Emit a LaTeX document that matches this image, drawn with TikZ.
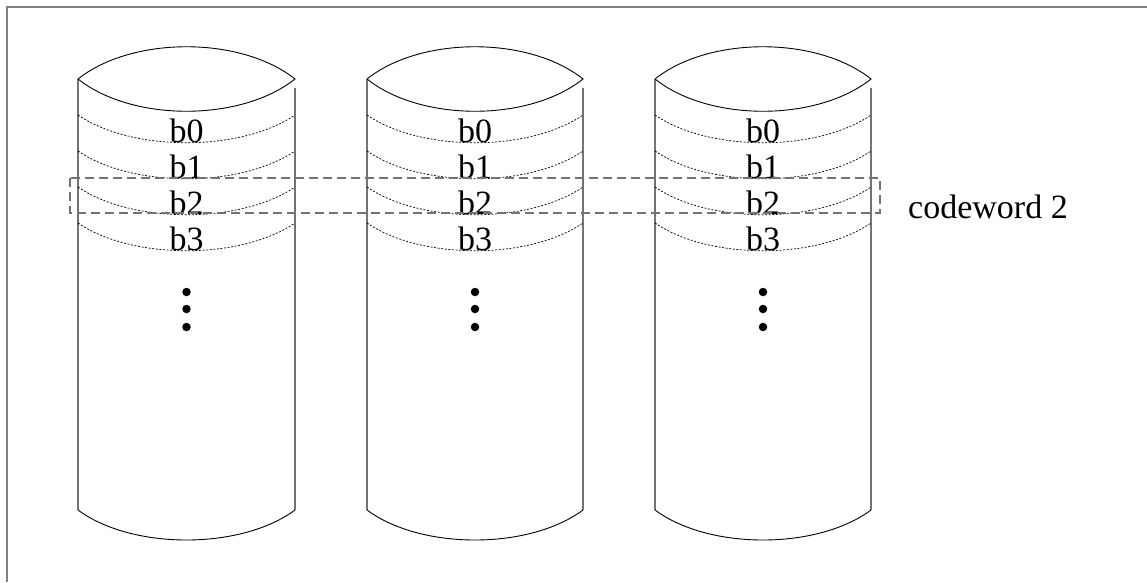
\documentclass[tikz,border=0pt]{standalone}
\usepackage{fontspec}
\setmainfont{Liberation Serif}
\begin{document}
\begin{tikzpicture}[x=1pt,y=-1pt,
  side/.style={draw=black!55,line width=1.1pt},
  rim/.style={draw=black,line width=0.9pt},
  layer/.style={draw=black,line width=0.7pt,dash pattern=on 2pt off 1.6pt},
  lbl/.style={anchor=base,inner sep=0pt,font=\fontsize{34}{40}\selectfont},
  cw/.style={draw=black!55,line width=1.1pt,dash pattern=on 9pt off 5pt},
  dot/.style={circle,fill=black,inner sep=0pt,minimum size=8.5pt}]
\useasboundingbox (0,0) rectangle (1147,582);
\draw[draw=black!50,line width=1.3pt] (7,582) -- (7,7) -- (1147,7);
\foreach \i/\l/\r in {1/78/295,2/367/583,3/655/871}{
  \pgfmathsetmacro{\c}{(\l+\r)/2}
  \pgfmathsetmacro{\qa}{\l+0.25*(\r-\l)}
  \pgfmathsetmacro{\qb}{\l+0.75*(\r-\l)}
  % sides
  \draw[side] (\l,79) -- (\l,510);
  \draw[side] (\r,88) -- (\r,510);
  % top ellipse
  \draw[rim] (\l,79) .. controls (\qa,36) and (\qb,36) .. (\r,79)
             .. controls (\qb,122) and (\qa,122) .. (\l,79);
  % bottom
  \draw[rim] (\l,510) .. controls (\qa,550) and (\qb,550) .. (\r,510);
  % layers
  \foreach \y in {115,151,187,223}{
    \draw[layer] (\l,\y) .. controls (\qa,\y+37) and (\qb,\y+37) .. (\r,\y);
  }
  \node[lbl] (b0\i) at (\c,142) {b0};
  \node[lbl] (b1\i) at (\c,178) {b1};
  \node[lbl] (b2\i) at (\c,214) {b2};
  \node[lbl] (b3\i) at (\c,250) {b3};
  \node[dot] (d1\i) at (\c,292) {};
  \node[dot] (d2\i) at (\c,309) {};
  \node[dot] (d3\i) at (\c,327) {};
}
\draw[cw] (70,178) rectangle (880,213);
\node[lbl,anchor=base west] (cw2) at (908,218) {codeword 2};
\end{tikzpicture}
\end{document}
